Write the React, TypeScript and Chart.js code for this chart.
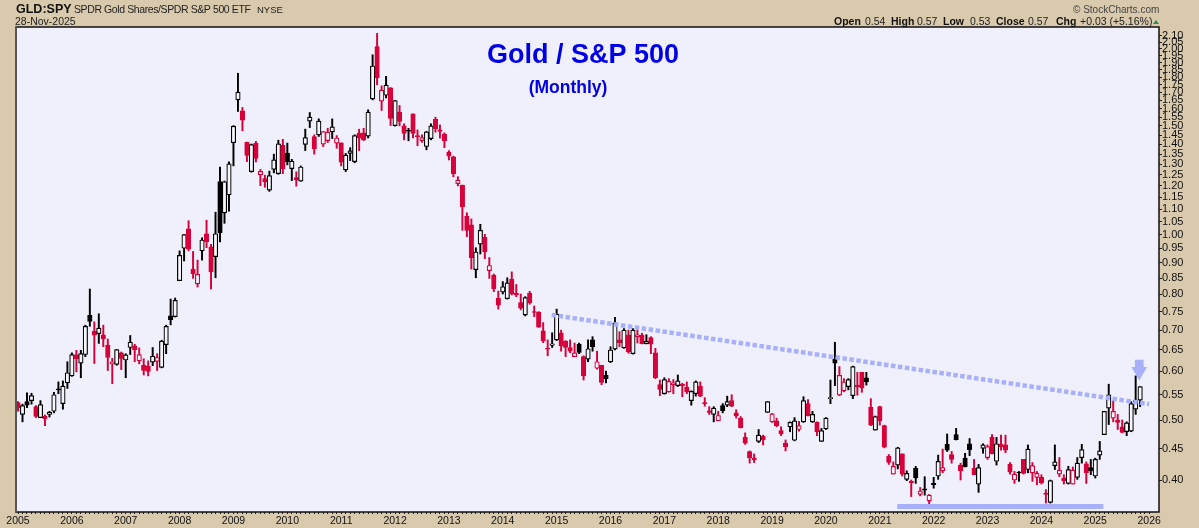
import { useEffect, useRef } from 'react'
import { Chart, registerables } from 'chart.js'

Chart.register(...registerables)

// GLD:SPY monthly, Jan 2005 - Nov 2025, one row per year
const opens = [
  .534,.511,.536,.538,.526,.505,.508,.511,.517,.562,.532,.575,
  .590,.638,.619,.639,.740,.697,.691,.688,.662,.617,.616,.643,
  .626,.656,.660,.624,.614,.612,.621,.623,.609,.663,.738,.736,
  .842,.950,1.022,.878,.832,.941,1.003,.955,.921,1.219,1.084,1.160,
  1.409,1.653,1.587,1.411,1.265,1.405,1.250,1.232,1.180,1.275,1.255,1.395,
  1.355,1.279,1.237,1.221,1.400,1.527,1.442,1.451,1.401,1.420,1.467,1.407,
  1.408,1.273,1.354,1.313,1.459,1.462,1.444,1.659,2.017,1.645,1.682,1.729,
  1.502,1.579,1.500,1.476,1.569,1.447,1.420,1.389,1.430,1.538,1.478,1.455,
  1.361,1.337,1.209,1.203,1.070,1.037,.877,.965,.990,.874,.859,.789,
  .807,.787,.846,.803,.776,.741,.803,.750,.749,.698,.654,.661,
  .675,.693,.672,.656,.634,.664,.634,.628,.675,.607,.614,.591,
  .622,.652,.675,.655,.687,.641,.683,.687,.665,.681,.643,.571,
  .552,.556,.571,.569,.572,.566,.538,.552,.568,.534,.518,.511,
  .499,.528,.529,.538,.514,.504,.469,.445,.434,.462,.471,.515,
  .497,.499,.481,.459,.488,.464,.483,.497,.532,.497,.496,.462,
  .484,.542,.628,.549,.558,.567,.548,.570,.598,.586,.525,.482,
  .526,.490,.437,.409,.423,.441,.401,.398,.418,.379,.387,.370,
  .395,.406,.414,.457,.440,.474,.423,.434,.458,.418,.394,.450,
  .435,.469,.429,.457,.456,.424,.400,.412,.432,.416,.411,.404,
  .404,.381,.368,.422,.409,.403,.395,.394,.404,.435,.425,.419,
  .406,.439,.474,.523,.504,.5005,.488,.479,.480,.521,.539,
]
const highs = [
  .536,.531,.554,.553,.528,.538,.510,.517,.555,.577,.579,.622,
  .643,.649,.649,.713,.816,.722,.744,.713,.677,.630,.651,.645,
  .641,.686,.664,.655,.629,.624,.656,.641,.674,.713,.786,.789,
  .941,1.000,1.053,.939,.909,.988,1.055,.964,1.087,1.286,1.221,1.312,
  1.502,1.826,1.607,1.412,1.402,1.416,1.275,1.248,1.267,1.350,1.422,1.427,
  1.407,1.324,1.264,1.292,1.482,1.577,1.451,1.540,1.469,1.487,1.540,1.447,
  1.408,1.354,1.383,1.451,1.482,1.487,1.593,1.956,2.119,1.742,1.805,1.731,
  1.649,1.619,1.512,1.487,1.569,1.478,1.451,1.469,1.512,1.550,1.506,1.462,
  1.368,1.340,1.241,1.203,1.085,1.060,.952,1.039,1.001,.918,.863,.810,
  .839,.851,.870,.830,.801,.793,.809,.766,.750,.720,.675,.693,
  .757,.700,.673,.675,.667,.667,.636,.675,.683,.647,.614,.601,
  .658,.734,.696,.704,.700,.704,.702,.692,.688,.683,.654,.581,
  .586,.584,.582,.592,.574,.577,.558,.579,.577,.544,.526,.526,
  .517,.532,.547,.550,.520,.507,.477,.446,.441,.483,.473,.536,
  .513,.504,.488,.4645,.497,.505,.498,.546,.540,.517,.497,.485,
  .505,.581,.669,.611,.584,.584,.612,.598,.598,.598,.542,.508,
  .527,.491,.440,.428,.452,.441,.414,.400,.421,.389,.405,.379,
  .404,.439,.449,.475,.445,.485,.426,.442,.467,.432,.424,.458,
  .456,.474,.469,.473,.473,.427,.413,.413,.432,.456,.427,.413,
  .408,.386,.400,.456,.435,.408,.421,.420,.435,.457,.428,.432,
  .434,.462,.517,.572,.538,.511,.5005,.497,.536,.590,.567,
]
const lows = [
  .517,.497,.524,.531,.505,.505,.490,.506,.514,.552,.521,.563,
  .589,.599,.586,.634,.710,.618,.666,.658,.602,.573,.614,.604,
  .586,.639,.622,.617,.592,.590,.613,.602,.608,.641,.714,.735,
  .842,.906,.941,.849,.822,.909,.952,.816,.851,.973,1.043,1.091,
  1.292,1.583,1.473,1.313,1.262,1.311,1.200,1.193,1.175,1.259,1.252,1.255,
  1.297,1.223,1.198,1.220,1.368,1.491,1.350,1.442,1.389,1.410,1.431,1.380,
  1.292,1.265,1.318,1.307,1.368,1.420,1.434,1.653,1.749,1.589,1.665,1.502,
  1.499,1.500,1.424,1.419,1.434,1.393,1.410,1.372,1.424,1.465,1.433,1.383,
  1.321,1.240,1.199,1.016,.992,.879,.851,.930,.914,.849,.808,.757,
  .801,.786,.798,.793,.755,.738,.771,.736,.707,.668,.636,.656,
  .673,.647,.634,.643,.634,.641,.581,.622,.647,.605,.571,.575,
  .620,.650,.658,.654,.642,.640,.667,.665,.665,.641,.584,.548,
  .551,.555,.552,.567,.546,.552,.529,.547,.546,.527,.511,.497,
  .499,.514,.526,.526,.504,.486,.457,.426,.427,.460,.456,.515,
  .496,.488,.472,.446,.479,.463,.480,.496,.508,.496,.472,.462,
  .483,.532,.569,.548,.556,.560,.542,.549,.555,.570,.490,.482,
  .491,.451,.424,.409,.417,.406,.399,.376,.395,.377,.378,.361,
  .388,.401,.411,.445,.426,.4645,.400,.420,.438,.408,.382,.442,
  .432,.441,.423,.447,.443,.409,.395,.398,.409,.411,.398,.393,
  .394,.367,.367,.416,.405,.394,.394,.394,.401,.426,.395,.408,
  .403,.432,.474,.492,.497,.483,.477,.472,.479,.511,.526,
]
const closes = [
  .524,.528,.529,.548,.507,.530,.503,.515,.550,.560,.568,.597,
  .639,.629,.641,.710,.723,.687,.705,.678,.632,.622,.651,.630,
  .638,.669,.651,.639,.602,.600,.635,.632,.672,.710,.728,.782,
  .925,1.000,.947,.864,.862,.980,.973,.870,1.003,1.006,1.218,1.302,
  1.498,1.702,1.532,1.343,1.399,1.329,1.266,1.217,1.246,1.322,1.403,1.279,
  1.313,1.315,1.226,1.287,1.436,1.550,1.377,1.527,1.469,1.465,1.495,1.434,
  1.310,1.345,1.367,1.447,1.433,1.424,1.579,1.876,1.796,1.715,1.747,1.542,
  1.649,1.525,1.459,1.471,1.459,1.440,1.436,1.467,1.500,1.484,1.469,1.420,
  1.340,1.254,1.225,1.110,1.016,.917,.937,1.016,.937,.891,.817,.768,
  .823,.835,.801,.798,.760,.790,.775,.748,.708,.672,.652,.665,
  .743,.660,.656,.647,.643,.644,.590,.653,.658,.622,.576,.584,
  .650,.719,.668,.700,.645,.700,.688,.665,.671,.664,.586,.561,
  .582,.578,.575,.579,.569,.556,.557,.577,.547,.532,.515,.523,
  .509,.518,.536,.527,.508,.486,.459,.435,.431,.473,.4645,.536,
  .512,.490,.475,.453,.496,.499,.490,.538,.508,.511,.479,.481,
  .504,.544,.619,.591,.577,.582,.611,.566,.564,.577,.491,.507,
  .499,.452,.427,.421,.451,.409,.410,.396,.403,.384,.385,.378,
  .393,.429,.419,.447,.432,.465,.414,.420,.448,.408,.419,.456,
  .453,.441,.458,.453,.447,.412,.409,.411,.410,.449,.422,.410,
  .396,.379,.399,.428,.415,.399,.416,.415,.426,.448,.411,.414,
  .432,.446,.517,.550,.517,.496,.478,.495,.532,.539,.567,
]

const yearTicks = [2005,2006,2007,2008,2009,2010,2011,2012,2013,2014,2015,2016,2017,2018,2019,2020,2021,2022,2023,2024,2025,2026]
const priceTicks = [.40,.45,.50,.55,.60,.65,.70,.75,.80,.85,.90,.95,1.00,1.05,1.10,1.15,1.20,1.25,1.30,1.35,1.40,1.45,1.50,1.55,1.60,1.65,1.70,1.75,1.80,1.85,1.90,1.95,2.00,2.05,2.10]
const monthTicks = closes.concat([0, 0]).map((_, i) => i)

const trendX = [118.9, 252]
const trendY = [.741, .531]
const supportX = [195.9, 241.8]
const supportY = [.3623, .3623]
const arrowX = 249.8
const arrowShaft = [.610, .626]
const arrowHead = .600

const RED = '#d8003a'
const BLACK = '#000000'
const BLUE = '#a8b0fa'
const PLOT_BG = '#eff0fb'
const PANEL = '#d9c9ad'
const SANS = '"Liberation Sans", Arial, sans-serif'

const candleColor = closes.map((c, i) => (i === 0 || c < closes[i - 1] ? RED : BLACK))
const candleFill = closes.map((c, i) => (c >= opens[i] ? '#f6f6fd' : candleColor[i]))

const chrome = {
  id: 'chrome',
  beforeDraw(chart: Chart) {
    const { ctx, chartArea: a } = chart
    ctx.save()
    ctx.fillStyle = PLOT_BG
    ctx.fillRect(a.left, a.top, a.right - a.left, a.bottom - a.top)
    ctx.restore()
  },
  afterDraw(chart: Chart) {
    const { ctx, chartArea: a } = chart
    ctx.save()
    ctx.strokeStyle = '#111'
    ctx.lineWidth = 1.5
    ctx.strokeRect(a.left, a.top, a.right - a.left, a.bottom - a.top)
    ctx.fillStyle = '#555'
    ctx.fillRect(a.left - 1, a.top, 2, a.bottom - a.top)

    const text = (s: string, x: number, y: number, font: string, color = '#111') => {
      ctx.font = font
      ctx.fillStyle = color
      ctx.fillText(s, x, y)
    }
    ctx.textBaseline = 'alphabetic'
    ctx.textAlign = 'left'
    text('GLD:SPY', 16, 13, `bold 12.5px ${SANS}`)
    ;(ctx as any).letterSpacing = '-0.4px'
    text('SPDR Gold Shares/SPDR S&P 500 ETF', 74, 13, `10.5px ${SANS}`, '#222')
    ;(ctx as any).letterSpacing = '0px'
    text('NYSE', 257, 13, `9.5px ${SANS}`, '#222')
    text('28-Nov-2025', 15, 25, `10.5px ${SANS}`, '#222')
    text('© StockCharts.com', 1073, 13, `10px ${SANS}`, '#444')
    text('Open', 834, 25, `bold 10.5px ${SANS}`)
    text('0.54', 865, 25, `10.5px ${SANS}`, '#222')
    text('High', 891, 25, `bold 10.5px ${SANS}`)
    text('0.57', 917, 25, `10.5px ${SANS}`, '#222')
    text('Low', 943, 25, `bold 10.5px ${SANS}`)
    text('0.53', 970, 25, `10.5px ${SANS}`, '#222')
    text('Close', 996, 25, `bold 10.5px ${SANS}`)
    text('0.57', 1028, 25, `10.5px ${SANS}`, '#222')
    text('Chg', 1056, 25, `bold 10.5px ${SANS}`)
    text('+0.03 (+5.16%)', 1080, 25, `10.5px ${SANS}`, '#222')
    ctx.fillStyle = '#2e8b57'
    ctx.beginPath()
    ctx.moveTo(1153, 24)
    ctx.lineTo(1159, 24)
    ctx.lineTo(1156, 20)
    ctx.fill()

    ctx.textAlign = 'center'
    text('Gold / S&P 500', 583, 63, `bold 27px ${SANS}`, '#0000e6')
    text('(Monthly)', 568, 93, `bold 17.5px ${SANS}`, '#0000e6')
    ctx.restore()
  },
}

export default function App() {
  const ref = useRef<HTMLCanvasElement>(null)

  useEffect(() => {
    if (!ref.current) return
    const chart = new Chart(ref.current, {
      type: 'bar',
      data: {
        datasets: [
          {
            data: closes.map((_, i) => ({ x: i, y: [lows[i], highs[i]] })),
            backgroundColor: candleColor,
            barThickness: 1.3,
            grouped: false,
            order: 3,
          },
          {
            data: closes.map((c, i) => ({ x: i, y: [opens[i], c] })),
            backgroundColor: candleFill,
            borderColor: candleColor,
            borderWidth: 1.2,
            borderSkipped: false,
            barThickness: 4.5,
            grouped: false,
            order: 2,
          },
          {
            data: [{ x: arrowX, y: arrowShaft }],
            backgroundColor: BLUE,
            barThickness: 8,
            grouped: false,
            order: 1,
          },
          {
            type: 'line',
            data: trendX.map((x, i) => ({ x, y: trendY[i] })),
            borderColor: BLUE,
            borderWidth: 4.5,
            borderDash: [4.5, 2.5],
            pointRadius: 0,
            order: 1,
          },
          {
            type: 'line',
            data: supportX.map((x, i) => ({ x, y: supportY[i] })),
            borderColor: BLUE,
            borderWidth: 5,
            pointRadius: 0,
            order: 1,
          },
          {
            type: 'line',
            data: [{ x: arrowX, y: arrowHead }],
            pointStyle: 'triangle',
            rotation: 180,
            pointRadius: 9,
            pointBackgroundColor: BLUE,
            pointBorderWidth: 0,
            order: 1,
          },
        ] as any,
      },
      options: {
        animation: false,
        responsive: false,
        devicePixelRatio: 1,
        layout: { padding: { left: 16, top: 27, right: 0, bottom: 0 } },
        plugins: { legend: { display: false }, tooltip: { enabled: false } },
        scales: {
          x: {
            type: 'linear',
            offset: false,
            min: -0.45,
            max: 254.2,
            afterBuildTicks: (s: any) => { s.ticks = monthTicks.map(value => ({ value })) },
            afterFit: (s: any) => { s.height = 16 },
            grid: { offset: false, drawOnChartArea: false, tickLength: 2, tickColor: '#222' },
            border: { display: false },
            ticks: {
              autoSkip: false,
              maxRotation: 0,
              minRotation: 0,
              padding: 1,
              color: '#111',
              font: { family: SANS, size: 10.5 },
              callback: (v: any) => {
                const year = yearTicks[v / 12]
                return year === undefined ? '' : String(year)
              },
            },
          },
          y: {
            type: 'logarithmic',
            position: 'right',
            min: .355,
            max: 2.17,
            afterBuildTicks: (s: any) => { s.ticks = priceTicks.map(value => ({ value })) },
            afterFit: (s: any) => { s.width = 40 },
            grid: { drawOnChartArea: false, tickLength: 3, tickColor: '#222' },
            border: { display: false },
            ticks: {
              autoSkip: false,
              padding: 0,
              color: '#111',
              font: { family: SANS, size: 11 },
              callback: (v: any) => Number(v).toFixed(2),
            },
          },
        },
      },
      plugins: [chrome],
    })
    return () => chart.destroy()
  }, [])

  return (
    <div style={{ position: 'fixed', left: 0, top: 0, width: 1199, height: 528, background: PANEL }}>
      <canvas ref={ref} width={1199} height={528} style={{ display: 'block' }} />
    </div>
  )
}
